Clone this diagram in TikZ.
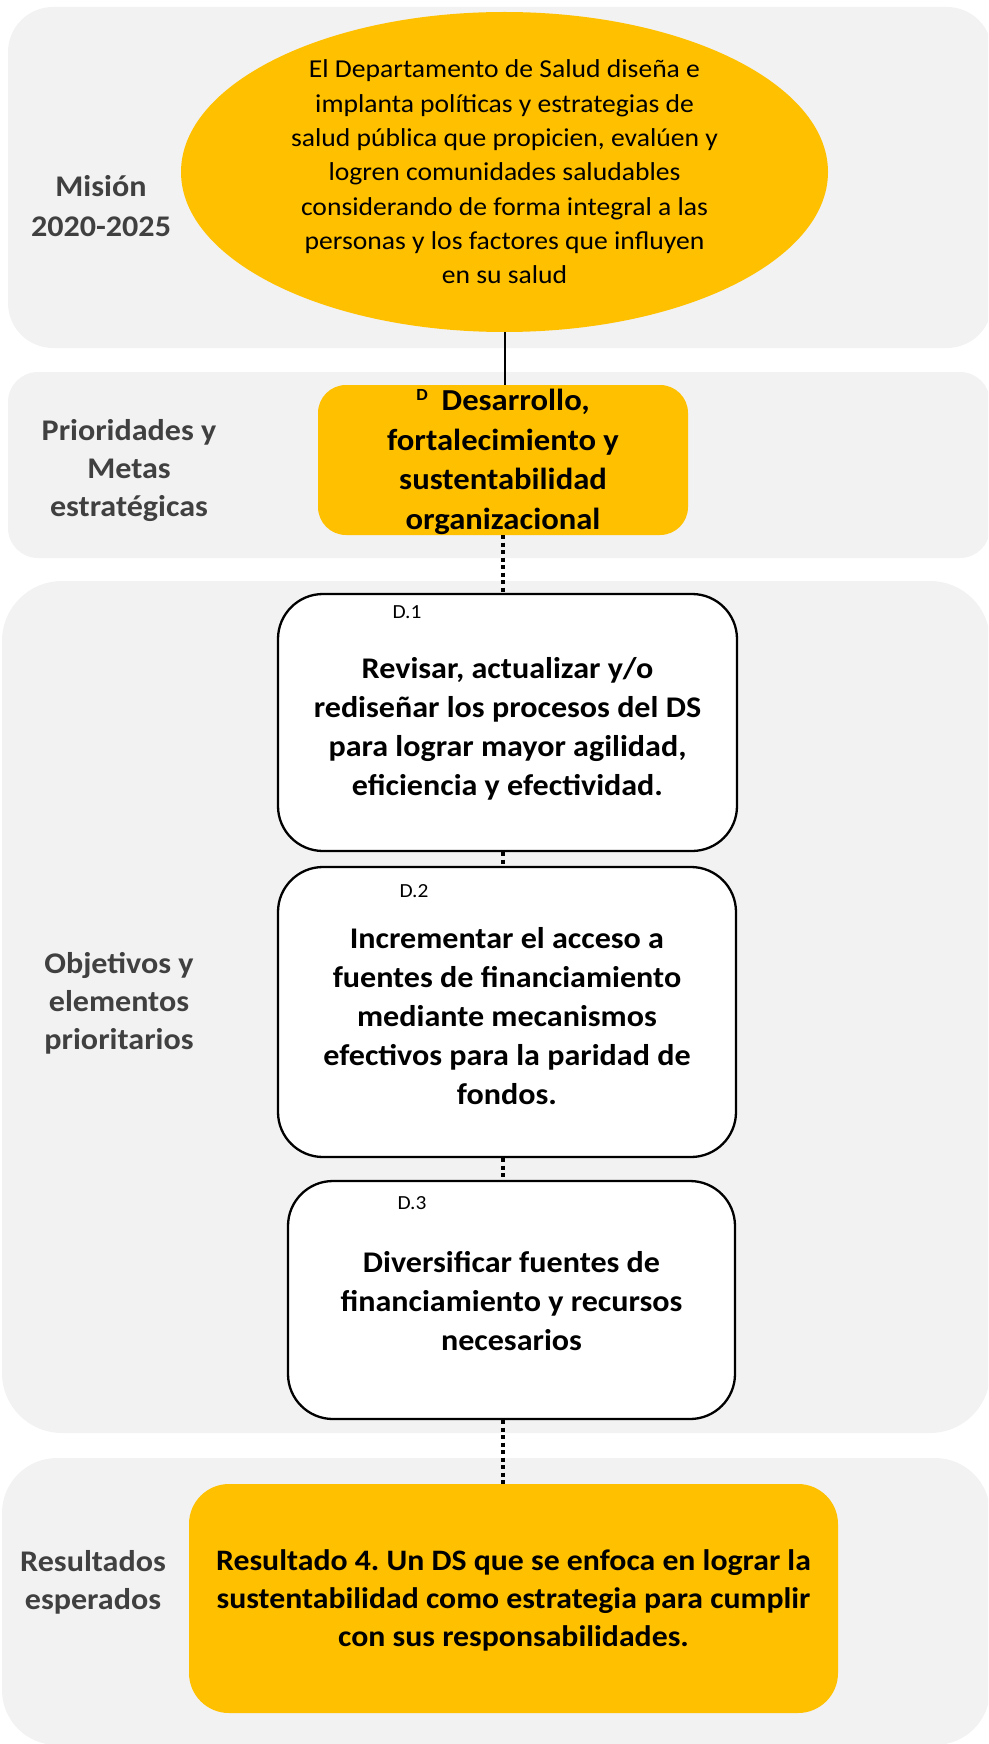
\documentclass[tikz,border=0pt]{standalone}
\usepackage{fontspec}
\setmainfont{Carlito}[FakeStretch=1.07]
\usetikzlibrary{shapes.geometric,calc}
\definecolor{panelgray}{HTML}{F2F2F2}
\definecolor{gold}{HTML}{FFC000}
\definecolor{labelgray}{HTML}{404040}
\frenchspacing
\begin{document}
\begin{tikzpicture}[x=1pt,y=-1pt,
  panel/.style={fill=panelgray, draw=none},
  lbl/.style={text=labelgray, font=\fontsize{30}{38}\selectfont\bfseries, align=center, inner sep=0pt},
  goldbox/.style={fill=gold, draw=none, inner sep=0pt},
  objbox/.style={fill=white, draw=black, line width=2.3pt, rounded corners=45pt, inner sep=0pt},
  objtext/.style={align=center, inner sep=0pt, font=\fontsize{30}{39}\selectfont\bfseries},
  codelbl/.style={font=\fontsize{20}{20}\selectfont, inner sep=0pt},
  dotline/.style={line width=3.5pt, dash pattern=on 4pt off 3.5pt},
  solidline/.style={line width=2pt}]
\clip (0,0) rectangle (988,1744);
% panels
\fill[panel, rounded corners=45pt] (8,7) rectangle (992,348);
\fill[panel, rounded corners=30pt] (8,372) rectangle (990,558);
\fill[panel, rounded corners=60pt] (2,581) rectangle (990,1433);
\fill[panel, rounded corners=55pt] (2,1458) rectangle (990,1745);

% side labels
\node[lbl, font=\fontsize{30}{40}\selectfont\bfseries] (lmision) at (101,206) {Misión\\2020-2025};
\node[lbl] (lprior) at (129,471) {Prioridades y\\Metas\\estratégicas};
\node[lbl] (lobj) at (119,1003) {Objetivos y\\elementos\\prioritarios};
\node[lbl] (lres) at (93,1582) {Resultados\\esperados};

% mission ellipse
\node[ellipse, fill=gold, draw=none, minimum width=647pt, minimum height=320pt, inner sep=0pt] (mision) at (504.5,172) {};
\node[align=center, inner sep=0pt, font=\fontsize{25.8}{34.3}\selectfont] (misiontxt) at (504.5,172) {El Departamento de Salud diseña e\\implanta políticas y estrategias de\\salud pública que propicien, evalúen y\\logren comunidades saludables\\considerando de forma integral a las\\personas y los factores que influyen\\en su salud};

% priority box
\node[goldbox, rounded corners=28pt, minimum width=370pt, minimum height=150pt] (dbox) at (503,460) {};
\node[objtext, font=\fontsize{30.5}{39.5}\selectfont\bfseries] (dtxt) at (503,462) {\raisebox{10pt}{\fontsize{17}{17}\selectfont D}\hspace{14pt}Desarrollo,\hspace{30pt}\\fortalecimiento y\\sustentabilidad\\organizacional};

% objective boxes
\node[objbox, minimum width=459pt, minimum height=257pt] (d1) at (507.5,722.5) {};
\node[objtext] (d1t) at (507.5,728.5) {Revisar, actualizar y/o\\rediseñar los procesos del DS\\para lograr mayor agilidad,\\eficiencia y efectividad.};
\node[codelbl] (d1c) at (407,612) {D.1};

\node[objbox, minimum width=458pt, minimum height=290pt] (d2) at (507,1012) {};
\node[objtext] (d2t) at (507,1016.5) {Incrementar el acceso a\\fuentes de financiamiento\\mediante mecanismos\\efectivos para la paridad de\\fondos.};
\node[codelbl] (d2c) at (414,891) {D.2};

\node[objbox, minimum width=447pt, minimum height=238pt] (d3) at (511.5,1300) {};
\node[objtext] (d3t) at (511.5,1301) {Diversificar fuentes de\\financiamiento y recursos\\necesarios};
\node[codelbl] (d3c) at (412,1203) {D.3};

% result box
\node[goldbox, rounded corners=40pt, minimum width=649pt, minimum height=229pt] (res) at (513.5,1598.5) {};
\node[objtext, font=\fontsize{29.7}{38}\selectfont\bfseries] (restxt) at (513.5,1600) {Resultado 4. Un DS que se enfoca en lograr la\\sustentabilidad como estrategia para cumplir\\con sus responsabilidades.};

% connectors
\draw[solidline] (mision.south) -- (mision.south |- dbox.north);
\draw[dotline] (dbox.south) -- (dbox.south |- d1.north);
\draw[dotline] (d1.south -| dbox.south) -- (d2.north -| dbox.south);
\draw[dotline] (d2.south -| dbox.south) -- (d3.north -| dbox.south);
\draw[dotline] (d3.south -| dbox.south) -- (res.north -| dbox.south);
\end{tikzpicture}
\end{document}
